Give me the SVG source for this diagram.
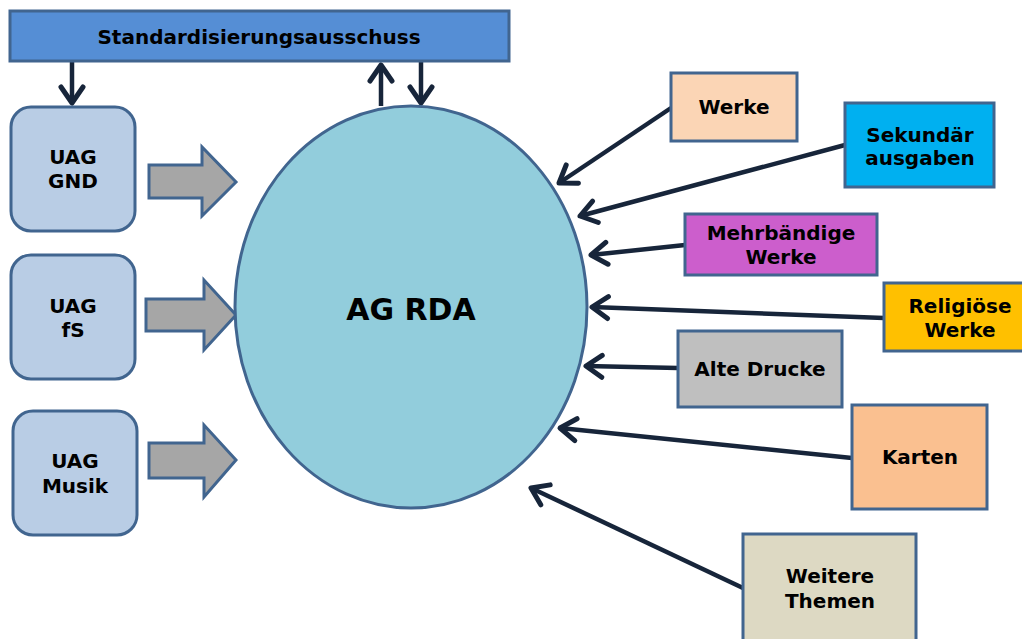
<svg xmlns="http://www.w3.org/2000/svg" width="1022" height="639" viewBox="0 0 1022 639">
<style>
text{font-family:"DejaVu Sans","Liberation Sans",sans-serif;font-weight:bold;font-size:20px;fill:#000;text-anchor:middle}
.box{stroke:#41658F;stroke-width:3}
.uag{fill:#B9CDE5;stroke:#41658F;stroke-width:3}
.blk{fill:#A6A6A6;stroke:#41658F;stroke-width:3;stroke-linejoin:miter}
.con{stroke:#17253A;stroke-width:4.5;fill:none;marker-end:url(#ah)}
</style>
<defs>
<marker id="ah" markerUnits="userSpaceOnUse" orient="auto" refX="0" refY="0" overflow="visible" markerWidth="30" markerHeight="30">
<path d="M -16 -11 L 0 0 L -16 11" fill="none" stroke="#17253A" stroke-width="5" stroke-linecap="round" stroke-linejoin="round"/>
</marker>
</defs>
<rect width="1022" height="639" fill="#fff"/>
<g id="connectors">
<line class="con" x1="72" y1="61" x2="72" y2="103"/>
<line class="con" x1="381" y1="106" x2="381" y2="65"/>
<line class="con" x1="421" y1="61" x2="421" y2="103"/>
<line class="con" x1="671" y1="108" x2="559" y2="183"/>
<line class="con" x1="845" y1="145" x2="580" y2="216"/>
<line class="con" x1="685" y1="245" x2="591" y2="255"/>
<line class="con" x1="884" y1="318" x2="592" y2="307"/>
<line class="con" x1="678" y1="368" x2="586" y2="366"/>
<line class="con" x1="852" y1="458" x2="560" y2="428"/>
<line class="con" x1="743" y1="588" x2="531" y2="488"/>
<polygon class="blk" points="149,165 202,165 202,147 236,182 202,216 202,198 149,198"/>
<polygon class="blk" points="146,299 204,299 204,280 236,315 204,350 204,331 146,331"/>
<polygon class="blk" points="149,443 204,443 204,425 236,460 204,497 204,478 149,478"/>
</g>
<g id="standardisierungsausschuss">
<rect class="box" x="10" y="11" width="499" height="50" fill="#558ED5"/>
<text x="259" y="44">Standardisierungsausschuss</text>
</g>
<g id="uag-gnd">
<rect class="uag" x="11" y="107" width="124" height="124" rx="20"/>
<text x="73" y="164">UAG</text><text x="73" y="188">GND</text>
</g>
<g id="uag-fs">
<rect class="uag" x="11" y="255" width="124" height="124" rx="20"/>
<text x="73" y="313">UAG</text><text x="73" y="337">fS</text>
</g>
<g id="uag-musik">
<rect class="uag" x="13" y="411" width="124" height="124" rx="20"/>
<text x="75" y="468">UAG</text><text x="75" y="493">Musik</text>
</g>
<g id="ag-rda">
<ellipse cx="411" cy="307" rx="176" ry="201" fill="#92CDDC" stroke="#41658F" stroke-width="3"/>
<text x="411" y="320" style="font-size:30px">AG RDA</text>
</g>
<g id="werke">
<rect class="box" x="671" y="73" width="126" height="68" fill="#FBD5B5"/>
<text x="734" y="114">Werke</text>
</g>
<g id="sekundaerausgaben">
<rect class="box" x="845" y="103" width="149" height="84" fill="#00B0F0"/>
<text x="920" y="142">Sekundär</text><text x="920" y="165">ausgaben</text>
</g>
<g id="mehrbaendige-werke">
<rect class="box" x="685" y="214" width="192" height="61" fill="#CC5ECC"/>
<text x="781" y="240">Mehrbändige</text><text x="781" y="264">Werke</text>
</g>
<g id="religioese-werke">
<rect class="box" x="884" y="283" width="142" height="68" fill="#FFC000"/>
<text x="960" y="313">Religiöse</text><text x="960" y="337">Werke</text>
</g>
<g id="alte-drucke">
<rect class="box" x="678" y="331" width="164" height="76" fill="#BFBFBF"/>
<text x="760" y="376">Alte Drucke</text>
</g>
<g id="karten">
<rect class="box" x="852" y="405" width="135" height="104" fill="#FAC090"/>
<text x="920" y="464">Karten</text>
</g>
<g id="weitere-themen">
<rect class="box" x="743" y="534" width="173" height="110" fill="#DDD9C3"/>
<text x="830" y="583">Weitere</text><text x="830" y="608">Themen</text>
</g>
</svg>
